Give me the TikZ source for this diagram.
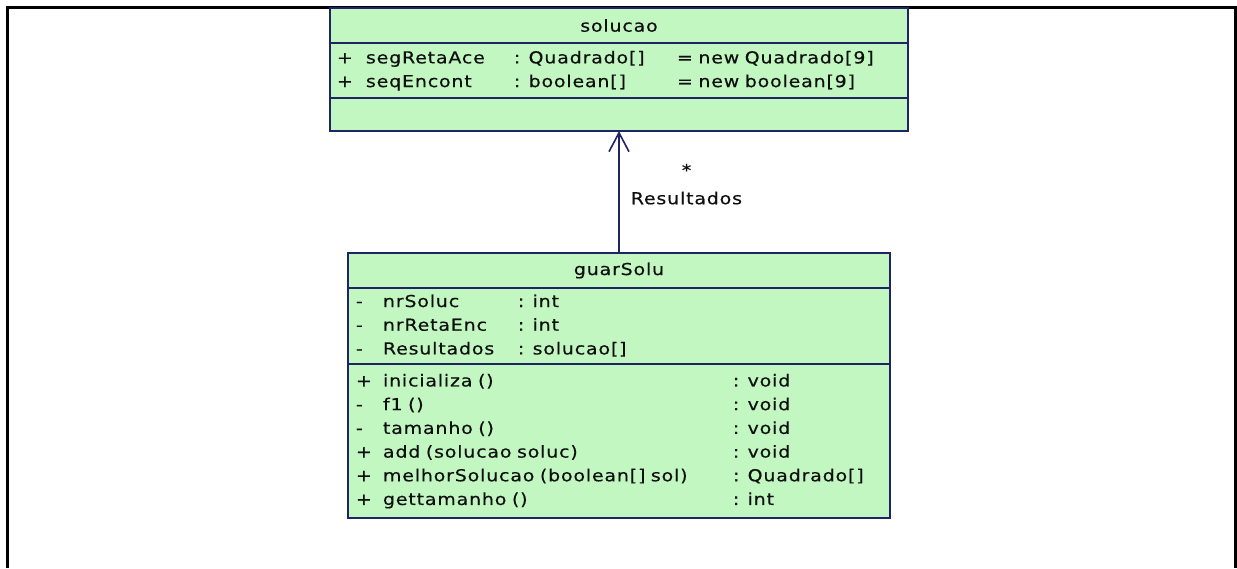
\documentclass[tikz,border=0pt]{standalone}
\usepackage{fontspec}
\usepackage{array}
\usetikzlibrary{positioning,arrows.meta}
\newfontfamily\umlfont{DejaVu Sans}[FakeStretch=1.15,LetterSpace=5,FakeBold=0.4]
\definecolor{umlline}{RGB}{30,36,100}
\definecolor{umlfill}{RGB}{194,247,194}
\definecolor{umltext}{RGB}{15,15,15}
\newcommand{\umlsize}{\umlfont\fontsize{16.5}{23.7}\selectfont}

\begin{document}
\begin{tikzpicture}[x=1pt,y=-1pt]
  \tikzstyle{umlpart}=[draw=umlline, fill=umlfill, line width=1.7pt, inner sep=0pt, outer sep=0pt, font=\umlsize, text=umltext]
  \tikzstyle{umlbody}=[umlpart, align=left]
  \tikzstyle{assoc}=[draw=umlline, line width=1.6pt, -{Straight Barb[length=19pt,width=20pt]}]
  \tikzstyle{rolelabel}=[inner sep=0pt, font=\umlsize, text=umltext]

  \useasboundingbox (0,0) rectangle (1237,568);
  \draw[line width=3pt] (7,568) |- (1235,7) -- (1235,568);

  \node[umlpart, anchor=north west, minimum width=578pt, minimum height=35pt] (sol-head) at (330,8) {solucao};
  \node[umlbody, below=0pt of sol-head, text width=564pt, inner xsep=7pt, minimum height=55pt] (sol-attr) {%
    \begin{tabular}{@{}p{29pt}@{}p{148pt}@{}p{163pt}@{}l@{}}
      + & segRetaAce & : Quadrado[] & = new Quadrado[9]\\
      + & seqEncont  & : boolean[]  & = new boolean[9]
    \end{tabular}};
  \node[umlpart, below=0pt of sol-attr, minimum width=578pt, minimum height=33pt] (sol-ops) {};

  \node[umlpart, below=122pt of sol-ops, minimum width=542pt, minimum height=35pt] (guar-head) {guarSolu};
  \node[umlbody, below=0pt of guar-head, text width=526pt, inner xsep=8pt, minimum height=76pt] (guar-attr) {%
    \begin{tabular}{@{}p{27pt}@{}p{135pt}@{}l@{}}
      - & nrSoluc    & : int\\
      - & nrRetaEnc  & : int\\
      - & Resultados & : solucao[]
    \end{tabular}};
  \node[umlbody, below=0pt of guar-attr, text width=526pt, inner xsep=8pt, minimum height=154pt] (guar-ops) {%
    \begin{tabular}{@{}p{27pt}@{}p{350pt}@{}l@{}}
      + & inicializa ()                  & : void\\
      - & f1 ()                          & : void\\
      - & tamanho ()                     & : void\\
      + & add (solucao soluc)            & : void\\
      + & melhorSolucao (boolean[] sol)  & : Quadrado[]\\
      + & gettamanho ()                  & : int
    \end{tabular}};

  \draw[assoc] (guar-head) -- (sol-ops)
    node[rolelabel, pos=0.45, right=11pt] {Resultados}
    node[rolelabel, pos=0.68, right=62pt] {*};

\end{tikzpicture}
\end{document}
